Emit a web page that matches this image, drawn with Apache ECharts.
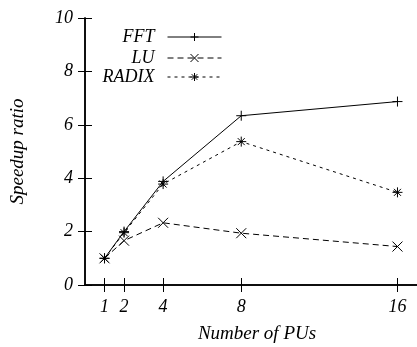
<!DOCTYPE html>
<html>
<head>
<meta charset="utf-8">
<script src="https://cdn.jsdelivr.net/npm/echarts@6/dist/echarts.min.js"></script>
<style>
  html, body { margin: 0; padding: 0; background: #fff; }
  #chart { width: 417px; height: 347px; }
</style>
</head>
<body>
<div id="chart"></div>
<script>
// number of processing units
var pus = [1, 2, 4, 8, 16];
var fft = [1, 2.0, 3.88, 6.34, 6.87];
var lu = [1, 1.66, 2.33, 1.94, 1.44];
var radix = [1, 1.96, 3.78, 5.37, 3.47];
var yTicks = [0, 2, 4, 6, 8, 10];

var font = "Liberation Serif";
var plus = "path://M5,0L5,10M0,5L10,5";
var cross = "path://M0,0L10,10M10,0L0,10";
var star = "path://M5,0L5,10M0,5L10,5M1.5,1.5L8.5,8.5M8.5,1.5L1.5,8.5";

function pairs(ys) {
  return pus.map(function (x, i) { return [x, ys[i]]; });
}

function mkSeries(name, ys, sym, type) {
  return {
    name: name,
    type: "line",
    data: pairs(ys),
    symbol: sym,
    symbolSize: 10,
    lineStyle: { color: "#000", width: 1, type: type },
    itemStyle: { color: "#000", borderColor: "#000", borderWidth: 1 },
    animation: false
  };
}

function mkLegend(name, top) {
  return {
    data: [name],
    orient: "vertical",
    right: 190,
    top: top,
    align: "right",
    itemWidth: 54,
    itemHeight: 10,
    selectedMode: false,
    itemStyle: { borderWidth: 1 },
    lineStyle: { width: 1 },
    textStyle: { fontFamily: font, fontStyle: "italic", fontSize: 18, color: "#000", padding: [0, 8, 0, 0] }
  };
}

var chart = echarts.init(document.getElementById("chart"));
var lbl = { fontFamily: font, fontStyle: "italic", fontSize: 18, color: "#000" };
var axLine = { show: true, lineStyle: { color: "#000", width: 1.5 } };
var nameStyle = { fontFamily: font, fontStyle: "italic", fontSize: 19, color: "#000" };

chart.setOption({
  animation: false,
  grid: { left: 85, top: 18, right: 0, bottom: 62, outerBoundsMode: "none", containLabel: false },
  legend: [mkLegend("FFT", 23), mkLegend("LU", 44), mkLegend("RADIX", 63)],
  xAxis: [
    {
      type: "value", min: 0, max: 17,
      name: "Number of PUs", nameLocation: "middle", nameGap: 39,
      nameTextStyle: Object.assign({ padding: [0, 0, 0, 12] }, nameStyle),
      axisLine: axLine,
      axisTick: { show: true, inside: true, length: 7, customValues: pus, lineStyle: { color: "#000" } },
      axisLabel: Object.assign({ customValues: pus, margin: 13 }, lbl),
      splitLine: { show: false }
    },
    {
      type: "value", min: 0, max: 17, position: "top",
      axisLine: axLine,
      axisTick: { show: true, inside: true, length: 7, customValues: pus, lineStyle: { color: "#000" } },
      axisLabel: { show: false },
      splitLine: { show: false }
    }
  ],
  yAxis: [
    {
      type: "value", min: 0, max: 10, interval: 2,
      name: "Speedup ratio", nameLocation: "middle", nameGap: 58,
      nameTextStyle: nameStyle,
      axisLine: axLine,
      axisTick: { show: true, inside: true, length: 7, lineStyle: { color: "#000" } },
      axisLabel: Object.assign({ margin: 12 }, lbl),
      splitLine: { show: false }
    },
    {
      type: "value", min: 0, max: 10, interval: 2, position: "right",
      axisLine: axLine,
      axisTick: { show: true, inside: true, length: 7, lineStyle: { color: "#000" } },
      axisLabel: { show: false },
      splitLine: { show: false }
    }
  ],
  series: [
    mkSeries("FFT", fft, plus, "solid"),
    mkSeries("LU", lu, cross, [6, 4]),
    mkSeries("RADIX", radix, star, [3, 4])
  ]
});
</script>
</body>
</html>
